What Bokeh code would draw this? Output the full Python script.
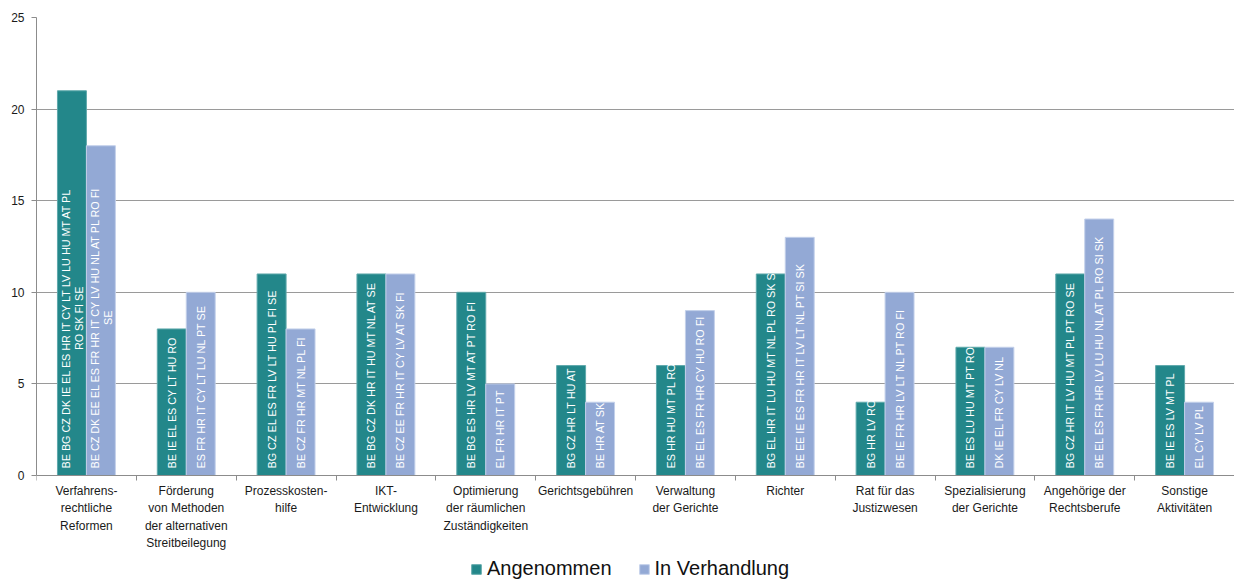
import numpy as np
from bokeh.plotting import figure
from bokeh.models import ColumnDataSource, FixedTicker, Legend, LegendItem, Range1d
from bokeh.core.properties import value
from bokeh.embed import file_html
from bokeh.resources import INLINE

categories = [
    "Verfahrens-\nrechtliche\nReformen",
    "Förderung\nvon Methoden\nder alternativen\nStreitbeilegung",
    "Prozesskosten-\nhilfe",
    "IKT-\nEntwicklung",
    "Optimierung\nder räumlichen\nZuständigkeiten",
    "Gerichtsgebühren",
    "Verwaltung\nder Gerichte",
    "Richter",
    "Rat für das\nJustizwesen",
    "Spezialisierung\nder Gerichte",
    "Angehörige der\nRechtsberufe",
    "Sonstige\nAktivitäten",
]
angenommen = [21, 8, 11, 11, 10, 6, 6, 11, 4, 7, 11, 6]
in_verhandlung = [18, 10, 8, 11, 5, 4, 9, 13, 10, 7, 14, 4]
labels_angenommen = [
    "BE BG CZ DK IE EL ES HR IT CY LT LV LU HU MT AT PL\nRO SK FI SE",
    "BE IE EL ES CY LT HU RO",
    "BG CZ EL ES FR LV LT HU PL FI SE",
    "BE BG CZ DK HR IT HU MT NL AT SE",
    "BE BG ES HR LV MT AT PT RO FI",
    "BG CZ HR LT HU AT",
    "ES HR HU MT PL RO",
    "BG EL HR IT LU HU MT NL PL RO SK SE",
    "BG HR LV RO",
    "BE ES LU HU MT PT RO",
    "BG CZ HR IT LV HU MT PL PT RO SE",
    "BE IE ES LV MT PL",
]
labels_verhandlung = [
    "BE CZ DK EE EL ES FR HR IT CY LV HU NL AT PL RO FI\nSE",
    "ES FR HR IT CY LT LU NL PT SE",
    "BE CZ FR HR MT NL PL FI",
    "BE CZ EE FR HR IT CY LV AT SK FI",
    "EL FR HR IT PT",
    "BE HR AT SK",
    "BE EL ES FR HR CY HU RO FI",
    "BE EE IE ES FR HR IT LV LT NL PT SI SK",
    "BE IE FR HR LV LT NL PT RO FI",
    "DK IE EL FR CY LV  NL",
    "BE EL ES FR HR LV LU HU NL AT PL RO SI SK",
    "EL CY LV PL",
]
series_names = ["Angenommen", "In Verhandlung"]

TEAL = "#23878A"
BLUE = "#93A9D5"
FONT = "Liberation Sans"
BAR_FONT_SIZE = "10.8px"

n = len(categories)
centers = np.arange(n)
bw = 0.29
xa = centers - bw / 2
xv = centers + bw / 2

# frame runs from the top grid line down to the window's bottom edge; the
# value axis keeps 458 px for 0..25, the rest below zero holds labels and legend
FRAME_H = 564
PLOT_H = 458
y_min = -(FRAME_H - PLOT_H) / PLOT_H * 25

p = figure(frame_width=1198, frame_height=FRAME_H, x_range=Range1d(-0.5, n - 0.5),
           y_range=Range1d(y_min, 25),
           output_backend="svg", toolbar_location=None,
           min_border_left=36, min_border_right=0, min_border_top=17, min_border_bottom=0)
p.outline_line_color = None
p.background_fill_color = "white"
p.border_fill_color = "white"

ra = p.vbar(x=xa, top=angenommen, width=bw, bottom=0, fill_color=TEAL, line_color="#5fa9ab", line_width=1)
rv = p.vbar(x=xv, top=in_verhandlung, width=bw, bottom=0, fill_color=BLUE, line_color="#c3d0ea", line_width=1)

# in-bar labels (white, vertical, reading upwards from the bar foot)
CHAR_PX = 5.56
def build(xs, labels):
    rows = dict(x=[], y=[], text=[], xo=[], yo=[])
    for x, lab in zip(xs, labels):
        parts = lab.split("\n")
        first_len = len(parts[0]) * CHAR_PX
        shift = -6 if len(parts) > 1 else 0
        for k, part in enumerate(parts):
            rows["x"].append(x); rows["y"].append(0); rows["text"].append(part)
            rows["xo"].append(shift + 13 * k)
            if k == 0:
                rows["yo"].append(-7)
            else:
                rows["yo"].append(-(17 + (first_len - len(part) * CHAR_PX) / 2))
    return rows

for xs, labs in ((xa, labels_angenommen), (xv, labels_verhandlung)):
    rows = build(xs, labs)
    p.text(x="x", y="y", text="text", x_offset="xo", y_offset="yo", source=ColumnDataSource(rows),
           angle=np.pi / 2, text_align="left", text_baseline="middle",
           text_color="white", text_font=value(FONT), text_font_size=BAR_FONT_SIZE)

# axes
xax = p.xaxis[0]
xax.axis_label = None
xax.fixed_location = 0
xax.ticker = FixedTicker(ticks=list(range(n)), minor_ticks=[i - 0.5 for i in range(n + 1)])
xax.major_label_overrides = {i: categories[i] for i in range(n)}
xax.major_tick_out = 0
xax.major_tick_in = 0
xax.minor_tick_out = 5
xax.minor_tick_in = 0
xax.minor_tick_line_color = "#8c8c8c"
xax.axis_line_color = "#8c8c8c"
xax.major_label_text_font = FONT
xax.major_label_text_font_size = "12px"
xax.major_label_text_color = "#1a1a1a"
xax.major_label_text_line_height = 1.25
xax.major_label_standoff = 3
xax.major_label_orientation = "horizontal"

yax = p.yaxis[0]
yax.axis_label = None
yax.bounds = (0, 25)
yax.ticker = FixedTicker(ticks=[0, 5, 10, 15, 20, 25])
yax.major_tick_out = 5
yax.major_tick_in = 0
yax.minor_tick_line_color = None
yax.axis_line_color = "#8c8c8c"
yax.major_tick_line_color = "#8c8c8c"
yax.major_label_text_font = FONT
yax.major_label_text_font_size = "12px"
yax.major_label_text_color = "#1a1a1a"
yax.major_label_standoff = 7

p.xgrid.visible = False
p.ygrid.ticker = FixedTicker(ticks=[5, 10, 15, 20, 25])
p.ygrid.grid_line_color = "#9a9a9a"
p.ygrid.grid_line_width = 1

legend = Legend(items=[LegendItem(label=series_names[0], renderers=[ra]),
                       LegendItem(label=series_names[1], renderers=[rv])],
                orientation="horizontal", location=(434, 1),
                label_text_font=FONT, label_text_font_size="20px", label_text_color="#111111",
                glyph_width=12, glyph_height=12, label_standoff=5, spacing=26, label_height=18,
                padding=0, margin=0, border_line_color=None, background_fill_alpha=0)
p.add_layout(legend)

open("out.html", "w").write(file_html(p, INLINE))
